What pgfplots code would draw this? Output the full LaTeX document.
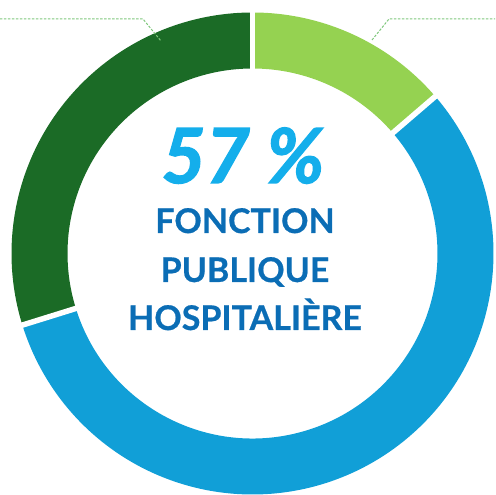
\documentclass[border=0pt]{standalone}
\usepackage{pgfplots}
\usepackage{pgfplotstable}
\pgfplotsset{compat=1.18}
\usepackage{fontspec}
\setmainfont{Lato}[BoldFeatures={FakeBold=0.6},BoldItalicFeatures={FakeBold=1.8}]

\definecolor{vertfonce}{HTML}{1B6B26}
\definecolor{vertclair}{HTML}{95D251}
\definecolor{bleuseg}{HTML}{119FD7}
\definecolor{bleutexte}{HTML}{0B6DB5}
\definecolor{bleuvif}{HTML}{14AEEB}
\definecolor{pointille}{HTML}{7FC77C}

% parts of the ring, clockwise from the top
\pgfplotstableread{
part value
etat 13.7
hospitaliere 56.5
territoriale 29.8
}\parts

\begin{document}
\begin{tikzpicture}
\pgfplotstablegetelem{0}{value}\of\parts \let\va\pgfplotsretval
\pgfplotstablegetelem{1}{value}\of\parts \let\vb\pgfplotsretval
\pgfplotstablegetelem{2}{value}\of\parts \let\vc\pgfplotsretval
\pgfmathsetmacro\aA{90}
\pgfmathsetmacro\aB{\aA-3.6*\va}
\pgfmathsetmacro\aC{\aB-3.6*\vb}
\pgfmathsetmacro\aD{\aC-3.6*\vc}
% radii in pt (1 axis unit = 1pt)
\def\Rout{241pt}
\def\Rin{185pt}
\def\Rd{-56pt}
\begin{axis}[
  width=495pt, height=495pt, scale only axis,
  xmin=0, xmax=495, ymin=0, ymax=495,
  hide axis, clip=false]

  \coordinate (ll) at (axis cs:0,0);
  \coordinate (ur) at (axis cs:495,495);

  \fill[vertclair] (axis cs:252.5,241.5) ++(\aA:\Rout) arc[start angle=\aA, end angle=\aB, radius=\Rout]
    -- ++(\aB:\Rd) arc[start angle=\aB, end angle=\aA, radius=\Rin] -- cycle;
  \fill[bleuseg] (axis cs:252.5,241.5) ++(\aB:\Rout) arc[start angle=\aB, end angle=\aC, radius=\Rout]
    -- ++(\aC:\Rd) arc[start angle=\aC, end angle=\aB, radius=\Rin] -- cycle;
  \fill[vertfonce] (axis cs:252.5,241.5) ++(\aC:\Rout) arc[start angle=\aC, end angle=\aD, radius=\Rout]
    -- ++(\aD:\Rd) arc[start angle=\aD, end angle=\aC, radius=\Rin] -- cycle;

  % white gaps between the parts
  \draw[white, line width=5.5pt] (axis cs:252.5,241.5) ++(\aA:178pt) -- ++(\aA:70pt);
  \draw[white, line width=5.5pt] (axis cs:252.5,241.5) ++(\aB:178pt) -- ++(\aB:70pt);
  \draw[white, line width=5.5pt] (axis cs:252.5,241.5) ++(\aC:178pt) -- ++(\aC:70pt);

  \addplot[pointille, line width=1pt, dash pattern=on 2.5pt off 1.5pt, no marks]
    coordinates {(0,476) (143,476) (161,454)};
  \addplot[pointille, line width=1pt, dash pattern=on 2.5pt off 1.5pt, no marks]
    coordinates {(372,455) (389,476) (495,476)};

  \node[anchor=base, text=bleuvif, font=\fontsize{76}{80}\selectfont\bfseries\itshape]
    at (axis cs:243,312) {57 \%};
  \node[anchor=base, text=bleutexte, font=\fontsize{34}{40}\selectfont\bfseries]
    at (axis cs:245,262) {FONCTION};
  \node[anchor=base, text=bleutexte, font=\fontsize{34}{40}\selectfont\bfseries]
    at (axis cs:245,213) {PUBLIQUE};
  \node[anchor=base, text=bleutexte, font=\fontsize{34}{40}\selectfont\bfseries]
    at (axis cs:245,165) {HOSPITALIÈRE};
\end{axis}
\pgfresetboundingbox
\path (ll) rectangle (ur);
\end{tikzpicture}
\end{document}
